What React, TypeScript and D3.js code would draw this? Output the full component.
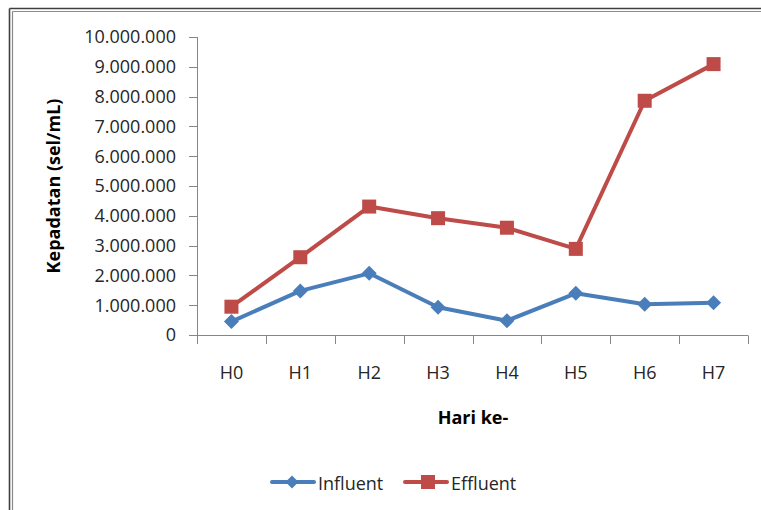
import React from "react";
import * as d3 from "d3";

const days = ["H0", "H1", "H2", "H3", "H4", "H5", "H6", "H7"];
const influent = [450000, 1480000, 2070000, 930000, 480000, 1400000, 1030000, 1080000];
const effluent = [950000, 2610000, 4310000, 3920000, 3600000, 2890000, 7860000, 9090000];
const yTicks = [0, 1000000, 2000000, 3000000, 4000000, 5000000, 6000000, 7000000, 8000000, 9000000, 10000000];

const W = 761;
const H = 510;
const font = "'Open Sans', 'Noto Sans', sans-serif";
const textColor = "#262626";
const axisColor = "#868686";
const blue = "#4a7ebb";
const red = "#be4b48";

const idLocale = d3.formatLocale({ decimal: ",", thousands: ".", grouping: [3], currency: ["", ""] });
const fmt = idLocale.format(",");

const App = () => {
  const x = d3.scaleBand().domain(days).range([197, 748]).padding(0);
  const y = d3.scaleLinear().domain([0, 10000000]).range([335, 37]);
  const cx = (d: string) => (x(d) as number) + x.bandwidth() / 2;

  const line = d3
    .line<number>()
    .x((_, i) => cx(days[i]))
    .y((d) => y(d));

  const diamond = (px: number, py: number, r = 7.5) =>
    `M${px},${py - r}L${px + r},${py}L${px},${py + r}L${px - r},${py}Z`;

  const boundaries = [...days.map((d) => x(d) as number), 748];

  return (
    <svg width={W} height={H} style={{ position: "absolute", left: 0, top: 0, background: "#fff" }}>
      {/* frame */}
      <line x1={9.5} y1={8.5} x2={9.5} y2={H} stroke="#404040" strokeWidth={1.6} />
      <line x1={12.5} y1={11.5} x2={12.5} y2={H} stroke="#8a8a8a" strokeWidth={1.2} />
      <line x1={9.5} y1={8.5} x2={W} y2={8.5} stroke="#404040" strokeWidth={1.6} />
      <line x1={12.5} y1={11.5} x2={W} y2={11.5} stroke="#8a8a8a" strokeWidth={1.2} />

      {/* y axis */}
      <line x1={197.5} y1={y(10000000)} x2={197.5} y2={y(0)} stroke={axisColor} strokeWidth={1} />
      {yTicks.map((t) => (
        <g key={t}>
          <line x1={189} x2={197.5} y1={Math.round(y(t)) + 0.5} y2={Math.round(y(t)) + 0.5} stroke={axisColor} />
          <text
            x={176}
            y={y(t)}
            dy="0.36em"
            textAnchor="end"
            fontFamily={font}
            fontSize={18}
            fill={textColor}
          >
            {fmt(t)}
          </text>
        </g>
      ))}

      {/* x axis */}
      <line x1={197} y1={335.5} x2={748} y2={335.5} stroke={axisColor} strokeWidth={1} />
      {boundaries.map((b, i) => (
        <line key={i} x1={Math.round(b) + 0.5} x2={Math.round(b) + 0.5} y1={335.5} y2={344} stroke={axisColor} />
      ))}
      {days.map((d) => (
        <text key={d} x={cx(d)} y={379} textAnchor="middle" fontFamily={font} fontSize={18} fill={textColor}>
          {d}
        </text>
      ))}

      {/* axis titles */}
      <text
        x={473}
        y={424}
        textAnchor="middle"
        fontFamily={font}
        fontSize={18}
        fontWeight="bold"
        fill="#000"
      >
        Hari ke-
      </text>
      <text
        transform={`translate(60,${(y(0) + y(10000000)) / 2}) rotate(-90)`}
        textAnchor="middle"
        fontFamily={font}
        fontSize={18}
        fontWeight="bold"
        fill="#000"
      >
        Kepadatan (sel/mL)
      </text>

      {/* series */}
      <path d={line(influent) || ""} fill="none" stroke={blue} strokeWidth={4} strokeLinejoin="round" />
      <path d={line(effluent) || ""} fill="none" stroke={red} strokeWidth={4} strokeLinejoin="round" />
      {influent.map((v, i) => (
        <path key={i} d={diamond(cx(days[i]), y(v))} fill={blue} />
      ))}
      {effluent.map((v, i) => (
        <rect key={i} x={cx(days[i]) - 7} y={y(v) - 7} width={14} height={14} fill={red} />
      ))}

      {/* legend */}
      <line x1={272} x2={314} y1={482} y2={482} stroke={blue} strokeWidth={4} strokeLinecap="round" />
      <path d={diamond(292, 482, 6.5)} fill={blue} />
      <text x={318} y={490} fontFamily={font} fontSize={18} fill={textColor}>
        Influent
      </text>
      <line x1={405} x2={447} y1={482} y2={482} stroke={red} strokeWidth={4} strokeLinecap="round" />
      <rect x={421} y={475} width={14} height={14} fill={red} />
      <text x={451} y={490} fontFamily={font} fontSize={18} fill={textColor}>
        Effluent
      </text>
    </svg>
  );
};

export default App;
